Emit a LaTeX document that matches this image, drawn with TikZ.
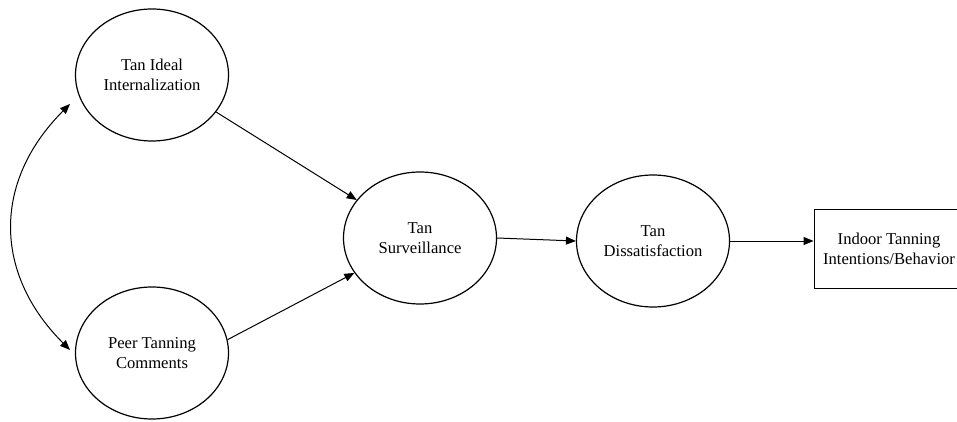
\documentclass[tikz,border=0pt]{standalone}
\usepackage{fontspec}
\setmainfont{Liberation Serif}
\usetikzlibrary{shapes.geometric,arrows.meta}
\begin{document}
\begin{tikzpicture}[x=1pt,y=-1pt,
  every node/.style={font=\fontsize{16.6}{20}\selectfont, align=center},
  latent/.style={draw, ellipse, line width=1.2pt, inner sep=0pt, minimum width=153pt, minimum height=132pt},
  obsbox/.style={draw, rectangle, line width=0.9pt, inner sep=0pt, minimum width=150pt, minimum height=79pt},
  conn/.style={line width=1pt, -{Triangle[length=10pt,width=8pt]}},
  biconn/.style={line width=1pt, {Triangle[length=10pt,width=8pt]}-{Triangle[length=10pt,width=8pt]}}]
\useasboundingbox (0,0) rectangle (957,422);
\node[latent] (e1) at (152,75) {Tan Ideal\\Internalization};
\node[latent] (e2) at (152,353) {Peer Tanning\\Comments};
\node[latent] (e3) at (420,238) {Tan\\Surveillance};
\node[latent] (e4) at (653,241) {Tan\\Dissatisfaction};
\node[obsbox] (r) at (889,248.5) {Indoor Tanning\\Intentions/Behavior};
\coordinate (c1) at (70,104);
\coordinate (c2) at (70,350);
\draw[conn] (e1.-30) -- (e3.149);
\draw[conn] (e2.10) -- (e3.208);
\draw[conn] (e3.east) -- (e4.west);
\draw[conn] (e4.east) -- (r.west |- e4.east);
\draw[biconn] (c1) .. controls (-7,181) and (-7,273) .. (c2);
\end{tikzpicture}
\end{document}
